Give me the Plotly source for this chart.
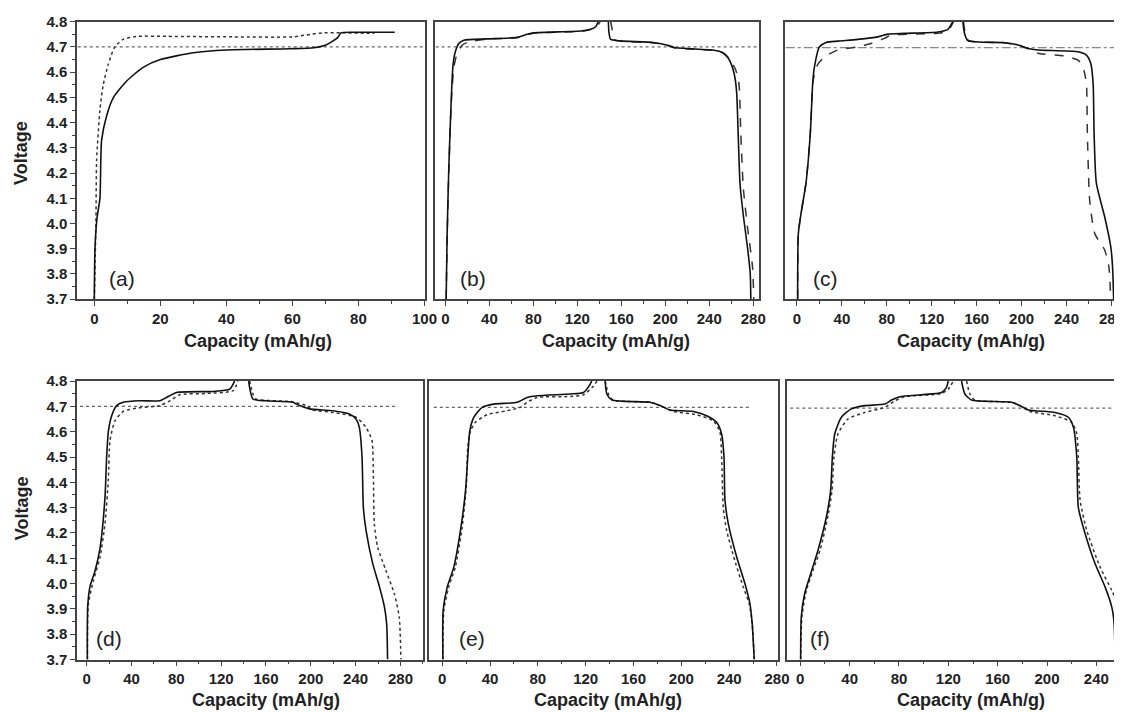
import plotly.graph_objects as go

# ---------------- data (capacity mAh/g, voltage V) ----------------
# panel (a)
a_solid_x = [0, 0.2, 0.8, 1.7, 2.2, 3.8, 5.8, 9.8, 14.9, 20, 30, 40, 59.3, 66.5, 70.5, 73.7, 74.7, 80, 91]
a_solid_y = [3.70, 3.90, 4.02, 4.10, 4.33, 4.43, 4.50, 4.565, 4.62, 4.65, 4.677, 4.688, 4.693, 4.697, 4.71, 4.737, 4.756, 4.758, 4.758]
a_dash_x = [0, 0.3, 0.5, 0.7, 1.7, 2.7, 4.2, 6.2, 8.7, 12.8, 22, 42, 60, 65.5, 69.5, 84.8]
a_dash_y = [3.70, 3.88, 4.02, 4.25, 4.45, 4.55, 4.63, 4.70, 4.73, 4.742, 4.742, 4.74, 4.74, 4.75, 4.756, 4.754]
a_ref_x = [-5, 100]
a_ref_y = [4.70, 4.70]

# panel (b)
b_solid_cx = [0.6, 1.5, 3.0, 5.2, 6.7, 8.5, 12.1, 16.7, 38, 65.3, 74.4, 80.5, 123, 132, 136.6, 139]
b_solid_cy = [3.70, 3.96, 4.22, 4.49, 4.62, 4.674, 4.714, 4.727, 4.732, 4.738, 4.75, 4.756, 4.763, 4.77, 4.78, 4.80]
b_solid_dx = [148.2, 148.8, 150.3, 159.4, 190, 202, 208, 244.5, 252, 256.6, 261, 263.3, 265, 266.3, 268, 271.2, 274.8, 277.3, 277.8]
b_solid_dy = [4.80, 4.754, 4.73, 4.724, 4.717, 4.707, 4.698, 4.687, 4.678, 4.66, 4.62, 4.58, 4.515, 4.356, 4.157, 4.025, 3.905, 3.80, 3.70]
b_dash_cx = [0.6, 1.6, 3.1, 5.4, 7.6, 10.6, 15.2, 21, 38, 65.3, 74.4, 80.5, 123, 133, 138, 140.6]
b_dash_cy = [3.70, 3.96, 4.22, 4.49, 4.62, 4.674, 4.707, 4.72, 4.731, 4.737, 4.749, 4.755, 4.762, 4.77, 4.782, 4.80]
b_dash_dx = [150.3, 151.8, 153.4, 160, 190, 202, 208, 244.5, 252, 258, 264, 267, 268.7, 271, 274.8, 279.4, 280.5]
b_dash_dy = [4.80, 4.767, 4.73, 4.723, 4.716, 4.706, 4.697, 4.686, 4.677, 4.654, 4.61, 4.555, 4.356, 4.14, 3.985, 3.826, 3.70]
b_ref_x = [-9, 284]
b_ref_y = [4.70, 4.70]

# panel (c)
c_solid_cx = [0.6, 1.2, 3.6, 8, 11.9, 14, 15.5, 19.9, 25.9, 36.3, 54, 72, 80.9, 95.7, 125.4, 134.4, 138.8]
c_solid_cy = [3.70, 3.96, 4.04, 4.16, 4.36, 4.556, 4.62, 4.70, 4.718, 4.723, 4.73, 4.74, 4.751, 4.754, 4.759, 4.77, 4.80]
c_solid_dx = [147.7, 149.2, 152.2, 184.9, 196.8, 205.7, 214.6, 250.3, 257.7, 261.6, 263.7, 264.6, 266.6, 274, 279.4, 281, 282]
c_solid_dy = [4.80, 4.754, 4.725, 4.717, 4.708, 4.694, 4.688, 4.681, 4.668, 4.635, 4.556, 4.356, 4.16, 4.027, 3.909, 3.83, 3.70]
c_dash_cx = [0.6, 1.2, 3.6, 8, 11.9, 14, 15.5, 18.4, 24.4, 36.3, 54, 66, 77.9, 83.8, 125.4, 134.4, 139.4]
c_dash_cy = [3.70, 3.96, 4.04, 4.16, 4.36, 4.556, 4.59, 4.63, 4.66, 4.688, 4.70, 4.714, 4.734, 4.747, 4.754, 4.764, 4.80]
c_dash_dx = [148.3, 149.8, 152.8, 184.9, 196.8, 205.7, 214.6, 238.4, 250.3, 254.7, 257.7, 258.6, 260.7, 265.2, 274, 277.7, 279.4]
c_dash_dy = [4.80, 4.754, 4.725, 4.717, 4.708, 4.694, 4.675, 4.664, 4.648, 4.62, 4.556, 4.356, 4.09, 3.96, 3.895, 3.83, 3.70]
c_ref_x = [-10, 290]
c_ref_y = [4.697, 4.697]

# panel (d)
d_solid_cx = [0.6, 0.9, 3, 7.4, 11.9, 16.3, 17.8, 19.3, 22.3, 26.7, 32.6, 47.5, 65.3, 71.2, 80.1, 112.8, 127.6, 132]
d_solid_cy = [3.70, 3.91, 3.99, 4.05, 4.14, 4.34, 4.50, 4.60, 4.663, 4.703, 4.716, 4.722, 4.722, 4.735, 4.755, 4.759, 4.768, 4.80]
d_solid_dx = [144.5, 148.4, 160, 184, 190, 198.8, 219.6, 234.4, 240.4, 243.3, 245.7, 246.9, 249.3, 255.2, 261.1, 265.6, 267.7, 268.5]
d_solid_dy = [4.80, 4.729, 4.722, 4.716, 4.703, 4.69, 4.683, 4.67, 4.65, 4.617, 4.50, 4.30, 4.21, 4.08, 3.99, 3.91, 3.84, 3.70]
d_dash_cx = [0.6, 1.5, 5.9, 11.9, 16.3, 19.3, 20.8, 25.2, 32.6, 44.5, 65.3, 74.2, 83, 106.8, 130.6, 135]
d_dash_cy = [3.70, 3.92, 4.01, 4.105, 4.236, 4.41, 4.565, 4.643, 4.68, 4.693, 4.703, 4.722, 4.746, 4.751, 4.762, 4.80]
d_dash_dx = [145.4, 148.4, 151.3, 184, 195.8, 201.8, 219.6, 240.4, 249.3, 254.6, 255.8, 256.7, 259.6, 267, 274.5, 278.9, 280.4]
d_dash_dy = [4.80, 4.749, 4.729, 4.718, 4.703, 4.686, 4.676, 4.657, 4.617, 4.565, 4.43, 4.236, 4.144, 4.052, 3.96, 3.868, 3.70]
d_ref_x = [-6, 277.4]
d_ref_y = [4.70, 4.70]

# panel (e)
e_solid_cx = [0.6, 0.8, 4.2, 9.7, 15.3, 19.5, 21.4, 23.1, 26.4, 33.4, 43.1, 62.6, 71, 79.3, 107.1, 118.2, 123.8, 125]
e_solid_cy = [3.70, 3.894, 3.986, 4.065, 4.21, 4.367, 4.50, 4.604, 4.657, 4.696, 4.709, 4.716, 4.735, 4.742, 4.749, 4.755, 4.788, 4.80]
e_solid_dx = [136.3, 137.7, 142, 174, 182.3, 190.6, 210, 221.2, 229.5, 233.7, 235.7, 236.5, 239.3, 246.3, 253.2, 257.4, 259.3, 261]
e_solid_dy = [4.80, 4.749, 4.725, 4.716, 4.703, 4.686, 4.68, 4.663, 4.637, 4.591, 4.50, 4.33, 4.236, 4.105, 4.00, 3.92, 3.84, 3.70]
e_dash_cx = [0.6, 1.4, 5.4, 11, 16.7, 20.3, 21.4, 23.7, 27.8, 37.6, 54.3, 65.4, 71, 79.3, 107.1, 118.2, 126.6, 129.4]
e_dash_cy = [3.70, 3.894, 3.986, 4.065, 4.223, 4.394, 4.54, 4.604, 4.637, 4.667, 4.683, 4.696, 4.716, 4.735, 4.739, 4.746, 4.78, 4.80]
e_dash_dx = [136.3, 139, 142.8, 174, 182.3, 193.4, 212.9, 226.8, 232.3, 233.7, 235.1, 237.9, 244.8, 251.8, 256.8, 259.3, 261]
e_dash_dy = [4.80, 4.749, 4.725, 4.716, 4.703, 4.68, 4.667, 4.643, 4.598, 4.50, 4.30, 4.21, 4.09, 3.986, 3.92, 3.84, 3.70]
e_ref_x = [-7, 258.8]
e_ref_y = [4.696, 4.696]

# panel (f)
f_solid_cx = [0.3, 0.8, 3.5, 7.6, 14.3, 21.1, 24.6, 26, 27.9, 33.3, 41.4, 52.2, 68.5, 73.9, 80.7, 98.2, 114.5, 118.5, 119.9]
f_solid_cy = [3.70, 3.868, 3.96, 4.026, 4.131, 4.262, 4.367, 4.50, 4.591, 4.657, 4.69, 4.703, 4.709, 4.725, 4.738, 4.746, 4.755, 4.775, 4.80]
f_solid_dx = [130.7, 133.4, 138.8, 171.3, 178, 184.8, 206.5, 217.3, 221.4, 224.1, 225.4, 230.9, 239, 247.1, 252.5, 254.4, 255.2]
f_solid_dy = [4.80, 4.749, 4.725, 4.716, 4.703, 4.686, 4.676, 4.657, 4.617, 4.50, 4.30, 4.197, 4.078, 3.986, 3.907, 3.842, 3.70]
f_dash_cx = [0.3, 1.3, 4.9, 10.3, 16.5, 22.2, 25.7, 27.3, 30.5, 38.6, 52.2, 68.5, 76.6, 84.7, 114.5, 119.9, 124]
f_dash_cy = [3.70, 3.868, 3.973, 4.052, 4.14, 4.262, 4.367, 4.50, 4.591, 4.65, 4.676, 4.696, 4.722, 4.738, 4.751, 4.768, 4.80]
f_dash_dx = [134.8, 137.5, 141.5, 171.3, 178, 186.2, 206.5, 220, 224.1, 225.4, 226.8, 232.2, 243, 252.5, 259.3, 263.3, 264.7]
f_dash_dy = [4.80, 4.749, 4.725, 4.716, 4.703, 4.68, 4.663, 4.637, 4.591, 4.50, 4.33, 4.21, 4.065, 3.973, 3.894, 3.84, 3.70]
f_ref_x = [-13, 256.6]
f_ref_y = [4.693, 4.693]

panel_labels = ["(a)", "(b)", "(c)", "(d)", "(e)", "(f)"]
x_title = "Capacity (mAh/g)"
y_title = "Voltage"

# ---------------- layout geometry ----------------
# target positions are given in picture pixels; the photographed page maps
# figure pixels to picture pixels by  pic = S * (fig + M)
SX, SY = 0.988, 0.978
MX, MY = 8.2, 15.6
W, H = 1128, 713
FONT = "Liberation Sans, Arial, sans-serif"
INK = "#222222"


def fx(px):
    return (px / SX - MX) / W


def fy(py):
    return 1 - (py / SY - MY) / H


# px: plot-area left/right (picture px); x0/ppu: picture px of capacity 0 and px per unit
panels = [
    dict(k="a", px=(77, 425), py=(20, 298), x0=94.3, ppu=3.297, dt=20, mt=10, dash="dot", refdash="dot"),
    dict(k="b", px=(435, 758), py=(20, 298), x0=445.0, ppu=1.0975, dt=40, mt=20, dash="dash", refdash="dot"),
    dict(k="c", px=(784, 1121), py=(20, 298), x0=796.0, ppu=1.1214, dt=40, mt=20, dash="dash", refdash="dashdot"),
    dict(k="d", px=(77, 423), py=(380, 659), x0=86.7, ppu=1.119, dt=40, mt=20, dash="dot", refdash="dot"),
    dict(k="e", px=(429, 777), py=(380, 659), x0=441.7, ppu=1.194, dt=40, mt=20, dash="dot", refdash="dot"),
    dict(k="f", px=(786, 1122), py=(380, 659), x0=799.3, ppu=1.232, dt=40, mt=20, dash="dot", refdash="dot"),
]

data = {
    "a": dict(solid=[(a_solid_x, a_solid_y)], dash=[(a_dash_x, a_dash_y)], ref=(a_ref_x, a_ref_y)),
    "b": dict(solid=[(b_solid_cx, b_solid_cy), (b_solid_dx, b_solid_dy)],
              dash=[(b_dash_cx, b_dash_cy), (b_dash_dx, b_dash_dy)], ref=(b_ref_x, b_ref_y)),
    "c": dict(solid=[(c_solid_cx, c_solid_cy), (c_solid_dx, c_solid_dy)],
              dash=[(c_dash_cx, c_dash_cy), (c_dash_dx, c_dash_dy)], ref=(c_ref_x, c_ref_y)),
    "d": dict(solid=[(d_solid_cx, d_solid_cy), (d_solid_dx, d_solid_dy)],
              dash=[(d_dash_cx, d_dash_cy), (d_dash_dx, d_dash_dy)], ref=(d_ref_x, d_ref_y)),
    "e": dict(solid=[(e_solid_cx, e_solid_cy), (e_solid_dx, e_solid_dy)],
              dash=[(e_dash_cx, e_dash_cy), (e_dash_dx, e_dash_dy)], ref=(e_ref_x, e_ref_y)),
    "f": dict(solid=[(f_solid_cx, f_solid_cy), (f_solid_dx, f_solid_dy)],
              dash=[(f_dash_cx, f_dash_cy), (f_dash_dx, f_dash_dy)], ref=(f_ref_x, f_ref_y)),
}

fig = go.Figure()
layout = {}
annotations = []

label_pos = {"a": (107, 277), "b": (457, 277), "c": (810, 277),
             "d": (94, 638), "e": (456, 638), "f": (807, 638)}
title_cx = {"a": 258, "b": 615, "c": 970, "d": 266, "e": 607, "f": 970}

for i, p in enumerate(panels, start=1):
    sfx = "" if i == 1 else str(i)
    xa, ya = "x" + sfx, "y" + sfx
    d = data[p["k"]]
    ref_x, ref_y = d["ref"]
    fig.add_trace(go.Scatter(x=ref_x, y=ref_y, mode="lines", xaxis=xa, yaxis=ya,
                             line=dict(color="#666666" if p["refdash"] == "dot" else "#888888",
                                       width=1.2, dash=p["refdash"]),
                             showlegend=False, hoverinfo="skip"))
    for xs, ys in d["dash"]:
        fig.add_trace(go.Scatter(x=xs, y=ys, mode="lines", xaxis=xa, yaxis=ya,
                                 line=dict(color="#333333", width=1.5, dash=p["dash"],
                                           shape="spline", smoothing=0.6),
                                 showlegend=False))
    for xs, ys in d["solid"]:
        fig.add_trace(go.Scatter(x=xs, y=ys, mode="lines", xaxis=xa, yaxis=ya,
                                 line=dict(color="#111111", width=1.6,
                                           shape="spline", smoothing=0.6),
                                 showlegend=False))

    left = p["k"] in ("a", "d")
    open_right = p["k"] in ("c", "f")
    pl, pr = p["px"]
    xr = [(pl - p["x0"]) / p["ppu"], (pr - p["x0"]) / p["ppu"]]
    d_hi = fx(pr)
    if d_hi > 1.0:                      # keep the data scale when clipped at the edge
        xr[1] = xr[0] + (xr[1] - xr[0]) * (1.0 - fx(pl)) / (d_hi - fx(pl))
        d_hi = 1.0
    layout["xaxis" + sfx] = dict(
        domain=[fx(pl), d_hi], anchor=ya, range=xr,
        showgrid=False, zeroline=False, showline=True, linecolor="#444444", linewidth=1.5,
        mirror=True, ticks="outside", ticklen=5, tickwidth=1.2, tickcolor="#444444",
        tick0=0, dtick=p["dt"],
        minor=dict(ticks="outside", ticklen=3, tickwidth=1, tickcolor="#444444",
                   tick0=0, dtick=p["mt"], showgrid=False),
        tickfont=dict(family=FONT, size=15, color=INK, weight="bold"),
    )
    layout["yaxis" + sfx] = dict(
        domain=[fy(p["py"][1]), fy(p["py"][0])], anchor=xa, range=[3.7, 4.8],
        showgrid=False, zeroline=False, showline=True, linecolor="#444444", linewidth=1.5,
        mirror=(not open_right),
        ticks="outside" if left else "", ticklen=5, tickwidth=1.2, tickcolor="#444444",
        showticklabels=left, tick0=3.7, dtick=0.1, tickformat=".1f",
        minor=dict(ticks="outside" if left else "", ticklen=3, tickwidth=1,
                   tickcolor="#444444", dtick=0.05, tick0=3.7, showgrid=False),
        tickfont=dict(family=FONT, size=15, color=INK, weight="bold"),
    )
    lx, ly = label_pos[p["k"]]
    annotations.append(dict(text=panel_labels[i - 1], x=fx(lx), y=fy(ly), xref="paper", yref="paper",
                            xanchor="left", yanchor="middle", showarrow=False,
                            font=dict(family=FONT, size=21, color=INK)))
    ty = 340 if p["py"][0] == 20 else 700
    annotations.append(dict(text=x_title, x=fx(title_cx[p["k"]]), y=fy(ty), xref="paper", yref="paper",
                            xanchor="center", yanchor="middle", showarrow=False,
                            font=dict(family=FONT, size=18, color=INK, weight="bold")))

for cy in (151, 507):
    annotations.append(dict(text=y_title, x=fx(21.5), y=fy(cy), xref="paper", yref="paper",
                            xanchor="center", yanchor="middle", textangle=-90, showarrow=False,
                            font=dict(family=FONT, size=18, color=INK, weight="bold")))

fig.update_layout(
    width=W, height=H, margin=dict(l=0, r=0, t=0, b=0),
    paper_bgcolor="white", plot_bgcolor="white",
    annotations=annotations, **layout,
)

fig.write_html("out.html")
